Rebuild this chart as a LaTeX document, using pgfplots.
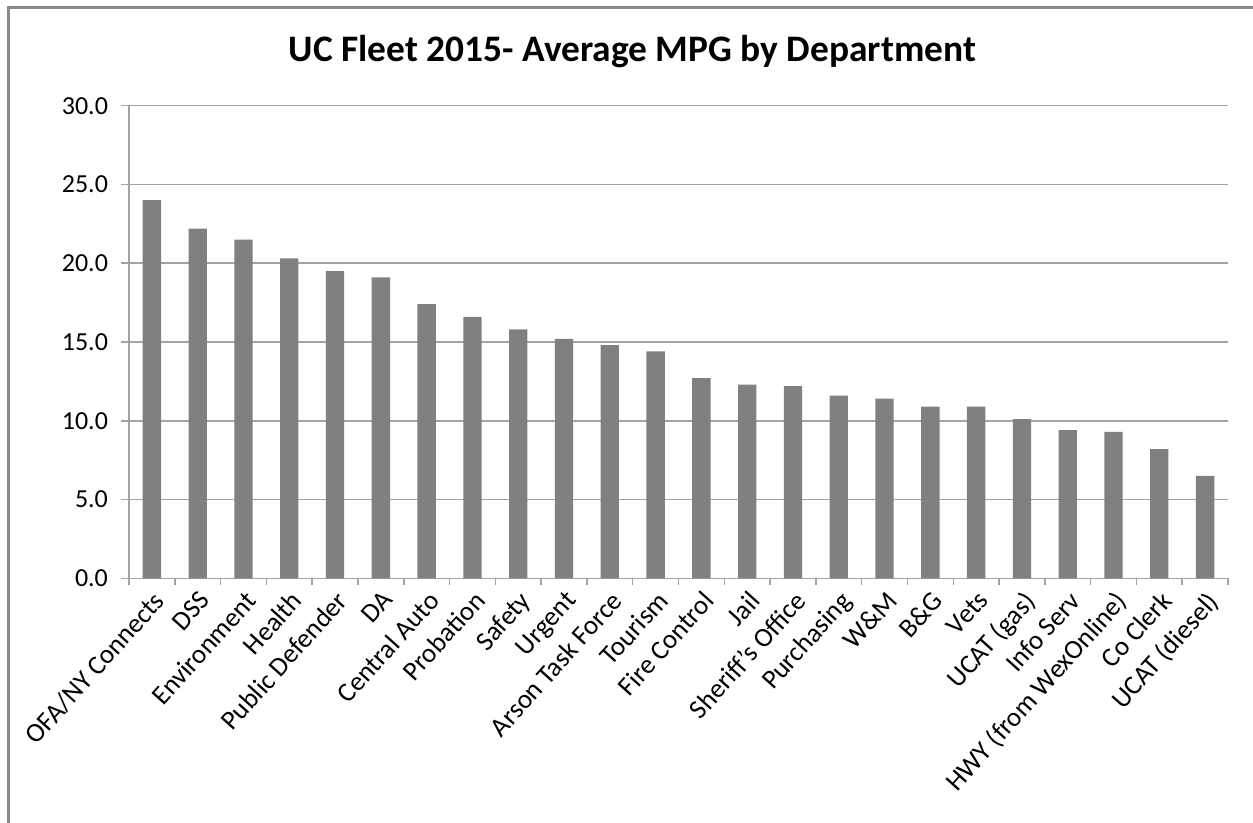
\documentclass[border=0pt]{standalone}
\usepackage{pgfplots}
\pgfplotsset{compat=1.18}
\usepackage{fontspec}
\setmainfont{Carlito}
\definecolor{barc}{HTML}{808080}
\definecolor{gridc}{HTML}{A3A3A3}
\definecolor{framec}{HTML}{8A8A8A}
\begin{document}
\begin{tikzpicture}
\useasboundingbox (0,0) rectangle (626.5pt,411.5pt);
\draw[framec, line width=1.3pt] (4.25pt,-20pt) -- (4.25pt,407.75pt) -- (660pt,407.75pt);
\node[font=\fontsize{18.7}{22}\selectfont\bfseries, anchor=base] at (316.25pt,380.65pt) {UC Fleet 2015- Average MPG by Department};
\begin{axis}[
  at={(64.5pt,122.35pt)}, anchor=south west,
  scale only axis, width=549.5pt, height=236.3pt,
  xmin=-0.5, xmax=23.5, ymin=0, ymax=30,
  axis x line*=bottom, axis y line*=left,
  axis line style={gridc, line width=0.75pt, -},
  ytick={0,5,...,30},
  ymajorgrids, grid style={gridc, line width=0.75pt},
  /pgf/number format/fixed, /pgf/number format/fixed zerofill, /pgf/number format/precision=1,
  /pgf/number format/assume math mode=true,
  tick label style={font=\fontsize{13.5}{16}\selectfont, text=black},
  y tick label style={xshift=-3pt, font=\fontsize{13}{16}\selectfont},
  xtick={0,...,23},
  xticklabels={OFA/NY Connects, DSS, Environment, Health, Public Defender, DA, Central Auto, Probation, Safety, Urgent, Arson Task Force, Tourism, Fire Control, Jail, Sheriff's Office, Purchasing, W\&M, B\&G, Vets, UCAT (gas), Info Serv, HWY (from WexOnline), Co Clerk, UCAT (diesel)},
  x tick label style={rotate=48, anchor=north east, inner sep=1pt},
  minor xtick={-0.5,0.5,...,23.5},
  tick align=outside,
  major tick length=4pt, minor tick length=3.5pt,
  major x tick style={draw=none},
  minor x tick style={draw=gridc, line width=0.75pt},
  y tick style={draw=gridc, line width=0.75pt},
  clip=false,
]
\addplot[ybar, bar width=0.4, fill=barc, draw=none] coordinates {
(0,24.0) (1,22.2) (2,21.5) (3,20.3) (4,19.5) (5,19.1) (6,17.4) (7,16.6)
(8,15.8) (9,15.2) (10,14.8) (11,14.4) (12,12.7) (13,12.3) (14,12.2) (15,11.6)
(16,11.4) (17,10.9) (18,10.9) (19,10.1) (20,9.4) (21,9.3) (22,8.2) (23,6.5)
};
\end{axis}
\end{tikzpicture}
\end{document}
